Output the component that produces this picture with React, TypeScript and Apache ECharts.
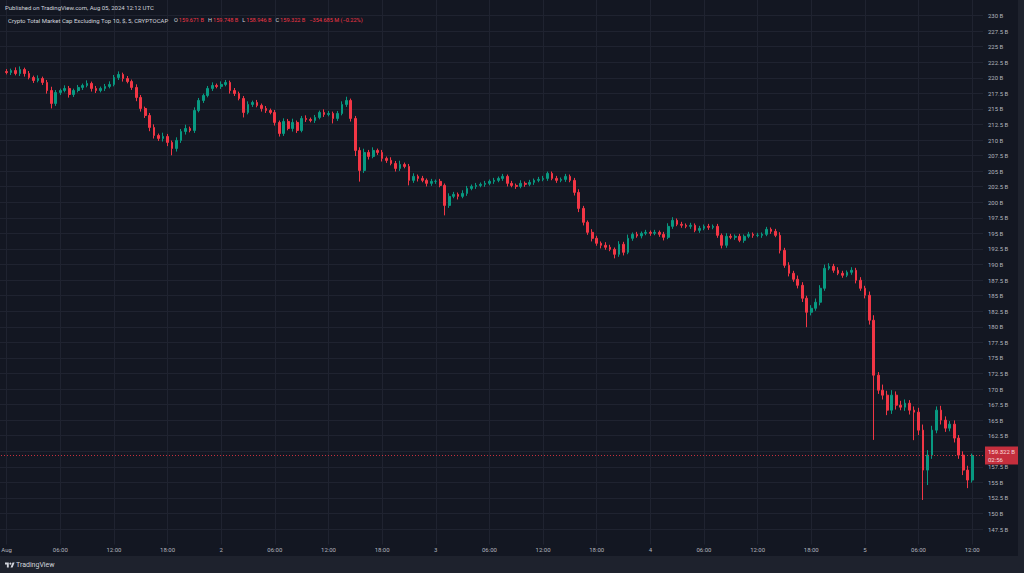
import { useEffect, useRef } from 'react';
import * as echarts from 'echarts';

// 30-minute candles, Aug 1 00:00 UTC -> Aug 5 12:00 UTC (values in billions USD)
const closes = [
  220.85, 221.17, 220.69, 221.33, 220.69, 220.05, 219.57, 219.89, 219.25, 217.96, 215.88, 217.64,
  217.96, 218.29, 217.32, 217.96, 218.45, 218.77, 219.09, 218.29, 217.96, 218.29, 218.61, 218.93,
  220.05, 220.53, 219.89, 219.41, 218.45, 216.84, 215.07, 213.95, 212.02, 210.74, 210.26, 210.58,
  209.62, 208.65, 209.94, 211.38, 211.86, 211.54, 214.75, 216.36, 217.16, 218.29, 218.77, 218.61,
  218.93, 219.25, 217.96, 217.48, 216.68, 214.43, 215.72, 216.04, 215.56, 215.07, 214.75, 214.43,
  212.83, 211.06, 212.99, 211.86, 212.83, 211.54, 213.47, 213.31, 213.15, 213.63, 214.43, 214.11,
  214.27, 213.47, 214.27, 215.72, 216.36, 213.47, 208.33, 205.12, 208.01, 207.37, 208.33, 208.01,
  207.05, 206.73, 206.24, 205.44, 206.08, 205.76, 203.52, 204.16, 203.84, 203.52, 203.04, 203.36,
  203.36, 202.71, 199.5, 200.95, 201.27, 200.95, 201.43, 202.23, 202.55, 202.71, 202.88, 203.04,
  203.36, 203.52, 203.84, 204.16, 203.04, 202.71, 202.55, 203.04, 202.88, 203.2, 203.52, 203.68,
  203.84, 204.64, 203.84, 203.52, 203.68, 204.16, 203.52, 201.59, 199.02, 196.78, 195.17, 194.21,
  193.41, 193.09, 192.77, 192.44, 191.64, 193.25, 191.96, 194.21, 194.85, 194.6, 195.01, 195.17,
  195.01, 195.17, 194.85, 194.37, 196.13, 197.1, 196.46, 196.3, 196.13, 196.3, 195.49, 195.81,
  196.13, 195.97, 196.13, 194.69, 193.09, 194.53, 194.37, 194.53, 193.89, 194.53, 194.85, 194.69,
  194.69, 194.85, 195.65, 195.33, 194.69, 192.28, 189.87, 188.59, 187.63, 186.66, 184.58, 182.33,
  182.97, 183.94, 186.18, 189.39, 189.71, 189.07, 188.59, 188.27, 188.75, 189.07, 187.47, 186.18,
  185.06, 181.05, 172.22, 169.81, 169.01, 166.6, 169.01, 167.4, 167.08, 167.72, 166.6, 166.28,
  163.39, 156.97, 159.38, 163.39, 166.6, 165.0, 163.71, 164.35, 162.11, 159.38, 156.97, 155.37,
  159.322,
];
const firstOpen = 221.0;
const wickUp = [
  0.4, 0.3, 0.5, 0.5, 0.3, 0.4, 0.3, 0.5, 0.3, 0.4, 0.6, 0.4,
  0.3, 0.5, 0.4, 0.3, 0.4, 0.3, 0.5, 0.3, 0.4, 0.3, 0.4, 0.5,
  0.4, 0.5, 0.3, 0.4, 0.3, 0.5, 0.4, 0.3, 0.4, 0.5, 0.3, 0.6,
  0.4, 0.3, 0.5, 0.4, 0.6, 0.3, 0.5, 0.4, 0.3, 0.4, 0.5, 0.3,
  0.5, 0.4, 0.3, 0.4, 0.3, 0.4, 0.5, 0.3, 0.4, 0.3, 0.4, 0.3,
  0.4, 0.3, 0.5, 0.4, 0.6, 0.3, 0.4, 0.5, 0.3, 0.4, 0.3, 0.5,
  0.4, 0.3, 0.4, 0.5, 0.6, 0.3, 0.4, 0.5, 0.6, 0.4, 0.5, 0.3,
  0.4, 0.3, 0.5, 0.4, 0.6, 0.3, 0.4, 0.5, 0.3, 0.4, 0.3, 0.4,
  0.3, 0.4, 0.3, 0.5, 0.4, 0.3, 0.5, 0.4, 0.3, 0.4, 0.3, 0.4,
  0.3, 0.4, 0.3, 0.4, 0.3, 0.4, 0.3, 0.5, 0.3, 0.4, 0.3, 0.4,
  0.4, 0.3, 0.3, 0.4, 0.3, 0.4, 0.3, 0.4, 0.5, 0.4, 0.3, 0.5,
  0.4, 0.3, 0.5, 0.4, 0.3, 0.5, 0.4, 0.6, 0.3, 0.4, 0.3, 0.4,
  0.3, 0.4, 0.3, 0.4, 0.5, 0.5, 0.3, 0.4, 0.3, 0.4, 0.3, 0.4,
  0.3, 0.4, 0.3, 0.4, 0.3, 0.5, 0.4, 0.3, 0.4, 0.3, 0.4, 0.3,
  0.4, 0.3, 0.4, 0.3, 0.4, 0.5, 0.4, 0.5, 0.4, 0.6, 0.5, 0.4,
  0.5, 0.6, 0.5, 0.6, 0.5, 0.4, 0.5, 0.4, 0.3, 0.5, 0.4, 0.5,
  0.4, 0.6, 0.8, 0.5, 0.9, 0.7, 0.8, 0.6, 0.7, 0.6, 0.5, 0.6,
  0.7, 0.9, 0.8, 0.7, 0.6, 0.7, 0.6, 0.5, 0.6, 0.5, 0.6, 0.7,
  0.3,
];
const wickDown = [
  0.3, 0.4, 0.3, 0.4, 0.5, 0.3, 0.4, 0.3, 0.4, 0.5, 0.8, 0.4,
  0.4, 0.3, 0.5, 0.4, 0.3, 0.4, 0.3, 0.5, 0.4, 0.3, 0.4, 0.3,
  0.3, 0.4, 0.5, 0.3, 0.4, 0.6, 0.5, 0.4, 0.6, 0.5, 0.4, 0.5,
  0.6, 1.1, 0.5, 0.4, 0.5, 0.3, 0.4, 0.3, 0.4, 0.3, 0.4, 0.3,
  0.4, 0.3, 0.5, 0.4, 0.3, 0.8, 0.3, 0.4, 0.3, 0.5, 0.4, 0.3,
  0.5, 0.5, 0.4, 0.3, 0.5, 0.4, 0.3, 0.4, 0.3, 0.4, 0.3, 0.4,
  0.3, 0.8, 0.4, 0.3, 0.4, 0.5, 0.9, 1.8, 0.4, 0.5, 0.3, 0.4,
  0.5, 0.4, 0.3, 0.5, 0.4, 0.3, 0.8, 0.4, 0.5, 0.3, 0.5, 0.4,
  0.4, 0.3, 1.6, 0.4, 0.3, 0.5, 0.3, 0.4, 0.3, 0.4, 0.3, 0.4,
  0.3, 0.4, 0.3, 0.4, 0.5, 0.3, 0.4, 0.3, 0.4, 0.3, 0.4, 0.3,
  0.3, 0.4, 0.3, 0.4, 0.3, 0.4, 0.3, 0.5, 0.6, 0.5, 0.4, 0.5,
  0.4, 0.5, 0.4, 0.3, 0.65, 0.4, 0.5, 0.3, 0.4, 0.3, 0.4, 0.3,
  0.4, 0.3, 0.4, 0.5, 0.3, 0.4, 0.3, 0.4, 0.3, 0.4, 0.3, 0.4,
  0.3, 0.4, 0.3, 0.4, 0.5, 0.4, 0.3, 0.4, 0.3, 0.4, 0.3, 0.4,
  0.3, 0.4, 0.3, 0.4, 0.3, 0.5, 0.4, 0.5, 0.4, 0.5, 0.6, 2.4,
  0.5, 0.4, 0.5, 0.4, 0.3, 0.4, 0.3, 0.4, 0.3, 0.4, 0.5, 0.4,
  0.5, 0.7, 10.4, 0.6, 0.7, 0.8, 0.6, 0.7, 0.5, 0.6, 0.7, 4.5,
  0.8, 4.8, 2.4, 0.6, 0.5, 0.7, 0.6, 0.5, 0.7, 0.6, 0.8, 1.3,
  0.4,
];

const dayLabels = ['Aug', '2', '3', '4', '5'];
const hourLabels = ['06:00', '12:00', '18:00'];
const candlesPerDay = 48;
const candlesPerTick = 12;

const lastPrice = 159.322;
const lastCountdown = '02:56';
const publishedText = 'Published on TradingView.com, Aug 05, 2024 12:12 UTC';
const symbolText = 'Crypto Total Market Cap Excluding Top 10, $, 5, CRYPTOCAP';
const ohlcKeys = ['O', 'H', 'L', 'C'];
const ohlcValues = ['159.671 B', '159.748 B', '158.946 B', '159.322 B'];
const changeText = '\u2212354.685 M (\u22120.22%)';

const UP = '#089981';
const DOWN = '#f23645';
const BG = '#131722';
const FRAME = '#1e222d';
const GRID = '#1f2330';
const TEXT = '#b2b5be';
const FONT = 'Roboto, "Noto Sans", sans-serif';

// the chart canvas starts off-screen on the left so that the time axis can begin before Aug 1 00:00
const OFF = 50;
const W = 1024 + OFF;

const logoPath = 'M14 22H7V11H0V4h14v18zM28 22h-7.5l7.5-18h7.5L28 22z';

export default function App() {
  const ref = useRef<HTMLDivElement>(null);
  useEffect(() => {
    if (!ref.current) return;
    try {
      echarts.graphic.registerShape('tvlogo', echarts.graphic.extendPath(logoPath as any, {}) as any);
    } catch (e) {}
    const chart = echarts.init(ref.current, null, { renderer: 'svg' });

    const data: number[][] = [];
    let prev = firstOpen;
    closes.forEach((c, i) => {
      const o = prev;
      const hi = Math.max(o, c) + wickUp[i];
      const lo = Math.min(o, c) - wickDown[i];
      data.push([i, o, c, lo, hi]);
      prev = c;
    });

    const font = (s: number) => `${s}px ${FONT}`;
    const T = (x: number, y: number, text: string, fill: string, size: number) => ({
      type: 'text', z: 101, x: x + OFF, y, style: { text, fill, font: font(size), verticalAlign: 'middle' },
    });

    const ohlcRich =
      ohlcKeys.map((k, i) => `{k|${k}}{v|${ohlcValues[i]}}`).join('{g| }') + `{g| }{v|${changeText}}`;

    chart.setOption({
      animation: false,
      backgroundColor: BG,
      grid: { left: 0, right: 41, top: -0.6, bottom: 28.4, containLabel: false },
      xAxis: {
        type: 'value',
        min: -12,
        max: (1024 + OFF - 41) / 4.483 - 12,
        interval: candlesPerTick,
        axisLine: { show: false },
        axisTick: { show: false },
        splitLine: { show: true, showMinLine: false, showMaxLine: false, lineStyle: { color: GRID, width: 1 } },
        axisLabel: {
          color: TEXT,
          fontSize: 6,
          fontFamily: FONT,
          margin: 2,
          formatter: (v: number) => {
            if (v < 0 || Math.abs(v % candlesPerTick) > 1e-6) return '';
            if (v % candlesPerDay === 0) return dayLabels[v / candlesPerDay] ?? '';
            return hourLabels[(v % candlesPerDay) / candlesPerTick - 1];
          },
        },
      },
      yAxis: {
        type: 'value',
        position: 'right',
        min: 145,
        max: 232.5,
        interval: 2.5,
        axisLine: { show: false },
        axisTick: { show: false },
        splitLine: { show: true, showMinLine: false, showMaxLine: false, lineStyle: { color: GRID, width: 1 } },
        axisLabel: {
          color: TEXT,
          fontSize: 6,
          fontFamily: FONT,
          margin: 5,
          showMinLabel: false,
          showMaxLabel: false,
          formatter: (v: number) => {
            if (v <= 145 || v >= 232.5) return '';
            return (Number.isInteger(v) ? String(v) : v.toFixed(1)) + ' B';
          },
        },
      },
      series: [
        {
          type: 'candlestick',
          data,
          encode: { x: 0, y: [1, 2, 3, 4] },
          barWidth: 2.2,
          itemStyle: { color: UP, color0: DOWN, borderColor: UP, borderColor0: DOWN, borderWidth: 1 },
          markLine: {
            silent: true,
            symbol: ['none', 'none'],
            lineStyle: { color: DOWN, type: [1, 2], width: 1, opacity: 0.8 },
            label: {
              show: true,
              position: 'end',
              distance: 2,
              formatter: `${lastPrice.toFixed(3)} B\n${lastCountdown}`,
              backgroundColor: DOWN,
              color: '#ffffff',
              fontSize: 6,
              lineHeight: 8,
              fontFamily: FONT,
              padding: [1, 6, 1, 3],
              align: 'left',
            },
            data: [{ yAxis: lastPrice }],
          },
        },
      ],
      graphic: [
        { type: 'rect', z: 100, shape: { x: 0, y: 556, width: W, height: 17 }, style: { fill: FRAME } },
        { type: 'rect', z: 100, shape: { x: 1018 + OFF, y: 0, width: 6, height: 573 }, style: { fill: FRAME } },
        { type: 'tvlogo', z: 101, x: 5 + OFF, y: 561.5, scaleX: 0.27, scaleY: 0.27, style: { fill: '#d1d4dc' } },
        { type: 'circle', z: 101, shape: { cx: 5 + OFF + 20 * 0.27, cy: 561.5 + 8 * 0.27, r: 4 * 0.27 }, style: { fill: '#d1d4dc' } },
        T(16, 565, 'TradingView', '#d1d4dc', 7),
        T(5, 7, publishedText, '#d1d4dc', 6),
        T(8, 20, symbolText, '#d1d4dc', 6),
        {
          type: 'text',
          z: 101,
          x: 174 + OFF,
          y: 20,
          style: {
            text: ohlcRich,
            verticalAlign: 'middle',
            font: font(5.6),
            rich: {
              k: { fill: '#d1d4dc', fontSize: 5.6, fontFamily: FONT, padding: [0, 1, 0, 0] },
              v: { fill: DOWN, fontSize: 5.6, fontFamily: FONT },
              g: { fontSize: 5.6, fontFamily: FONT, width: 4 },
            },
          },
        },
      ],
    });
    return () => chart.dispose();
  }, []);
  return (
    <div
      ref={ref}
      style={{ position: 'fixed', left: -OFF, top: 0, width: W, height: 573, background: BG }}
    />
  );
}
